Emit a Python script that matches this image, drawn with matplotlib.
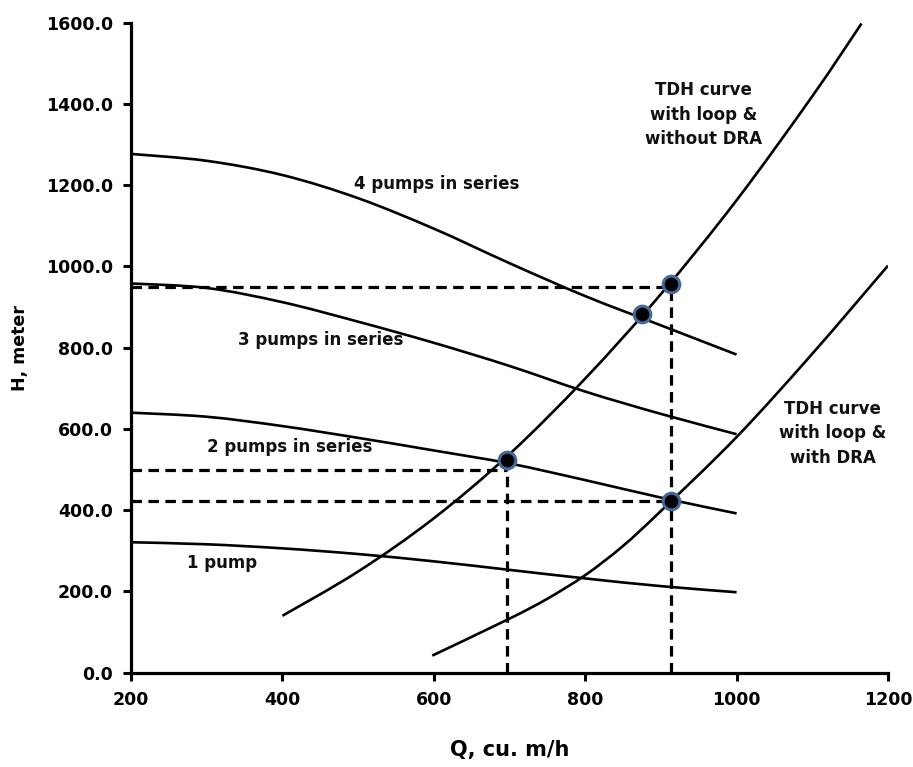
import matplotlib
matplotlib.use("Agg")
import matplotlib.pyplot as plt
from matplotlib.path import Path
from matplotlib.patches import PathPatch
from matplotlib.ticker import FormatStrFormatter

plt.rcParams['font.family'] = ['DejaVu Sans']

# pump curves (Q in cu. m/h, H in meter)
q_pump = [200, 300, 400, 500, 600, 700, 800, 900, 1000]
h_1pump = [321, 316, 306, 292, 274, 253, 232, 213, 198]
h_2pump = [640, 630, 607, 578, 547, 515, 474, 431, 392]
h_3pump = [958, 947, 912, 864, 812, 755, 692, 637, 587]
h_4pump = [1277, 1260, 1225, 1168, 1093, 1008, 927, 855, 783]

# system (TDH) curves
q_tdh_nodra = [400, 500, 600, 700, 800, 900, 1000, 1100, 1165]
h_tdh_nodra = [140, 249, 380, 538, 724, 932, 1163, 1419, 1598]
q_tdh_dra = [598, 700, 750, 800, 850, 900, 1000, 1100, 1200]
h_tdh_dra = [42, 133, 182, 240, 312, 398, 580, 785, 1002]

# operating points
q_op = [875, 914, 697, 914]
h_op = [882, 957, 523, 422]

# guide lines
guide_h = [950, 500, 422]
guide_h_end = [914, 697, 914]
guide_v = [914, 697]
guide_v_top = [957, 523]


def smooth_line(ax, xs, ys, **kw):
    # smoothed line like a spreadsheet chart: cubic bezier through the points
    pts = list(zip(xs, ys))
    n = len(pts)
    verts = [pts[0]]
    codes = [Path.MOVETO]
    for i in range(n - 1):
        p0 = pts[max(i - 1, 0)]
        p1 = pts[i]
        p2 = pts[i + 1]
        p3 = pts[min(i + 2, n - 1)]
        c1 = (p1[0] + (p2[0] - p0[0]) / 6, p1[1] + (p2[1] - p0[1]) / 6)
        c2 = (p2[0] - (p3[0] - p1[0]) / 6, p2[1] - (p3[1] - p1[1]) / 6)
        verts += [c1, c2, p2]
        codes += [Path.CURVE4] * 3
    ax.add_patch(PathPatch(Path(verts, codes), fill=False, **kw))


fig = plt.figure(figsize=(9.13, 7.67), dpi=100)
ax = fig.add_axes([0.1435, 0.123, 0.8291, 0.8474])

lw = 1.9
for h in [h_1pump, h_2pump, h_3pump, h_4pump]:
    smooth_line(ax, q_pump, h, color='black', lw=lw)
smooth_line(ax, q_tdh_nodra, h_tdh_nodra, color='black', lw=lw)
smooth_line(ax, q_tdh_dra, h_tdh_dra, color='black', lw=lw)

for y, xe in zip(guide_h, guide_h_end):
    ax.plot([200, xe], [y, y], color='black', lw=2.3, dashes=(3.3, 2.0))
for x, yt in zip(guide_v, guide_v_top):
    ax.plot([x, x], [0, yt], color='black', lw=2.3, dashes=(3.3, 2.0))

ax.plot(q_op, h_op, 'o', color='black', markersize=12,
        markeredgecolor='#44699a', markeredgewidth=2.2, zorder=5)

tk = dict(fontsize=12, fontweight='bold', color='#111111')
ax.text(604, 1204, '4 pumps in series', ha='center', va='center', **tk)
ax.text(451, 818, '3 pumps in series', ha='center', va='center', **tk)
ax.text(409, 555, '2 pumps in series', ha='center', va='center', **tk)
ax.text(320, 270, '1 pump', ha='center', va='center', **tk)
ax.text(956, 1373, 'TDH curve\nwith loop &\nwithout DRA', ha='center', va='center',
        linespacing=1.47, **tk)
ax.text(1127, 589, 'TDH curve\nwith loop &\nwith DRA', ha='center', va='center',
        linespacing=1.47, **tk)

ax.set_xlim(200, 1200)
ax.set_ylim(0, 1600)
ax.set_xticks(range(200, 1201, 200))
ax.set_yticks(range(0, 1601, 200))
ax.yaxis.set_major_formatter(FormatStrFormatter('%.1f'))

for s in ['top', 'right']:
    ax.spines[s].set_visible(False)
for s in ['left', 'bottom']:
    ax.spines[s].set_linewidth(2.3)
ax.tick_params(direction='out', length=6, width=2.2, labelsize=12.5, pad=7)
for lab in ax.get_xticklabels() + ax.get_yticklabels():
    lab.set_fontweight('bold')

ax.set_xlabel('Q, cu. m/h', fontsize=15, fontweight='bold', va='center')
ax.set_ylabel('H, meter', fontsize=12.5, fontweight='bold', va='center')
ax.xaxis.set_label_coords(0.5, -0.119)
ax.yaxis.set_label_coords(-0.147, 0.5)

fig.savefig('out.png', dpi=100)
